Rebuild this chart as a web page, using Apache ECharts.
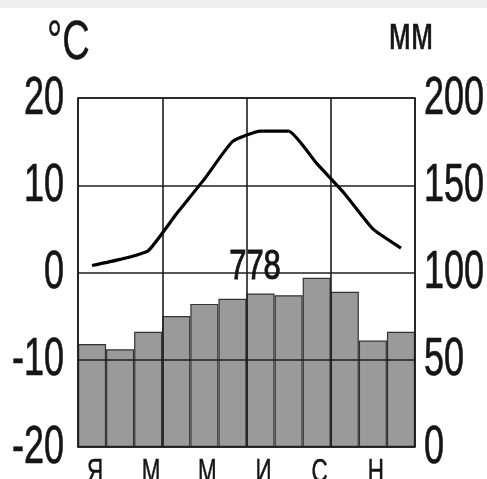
<!DOCTYPE html>
<html>
<head>
<meta charset="utf-8">
<script src="https://cdn.jsdelivr.net/npm/echarts@6/dist/echarts.min.js"></script>
<style>
html,body{margin:0;padding:0;background:#fff;}
#chart{width:487px;height:479px;}
</style>
</head>
<body>
<div id="chart"></div>
<script>
var months = ['Я','Ф','М','А','М','И','И','А','С','О','Н','Д'];
var precipitation = [59, 56, 66, 75, 82, 85, 88, 87, 97, 89, 61, 66];
var temperature = [0.8, 1.5, 2.5, 6.7, 10.7, 15, 16.2, 16.2, 12.5, 9, 5, 2.8];
var tempTicks = [-20, -10, 0, 10, 20];
var precipTicks = [0, 50, 100, 150, 200];
var annualTotal = '778';
var tempUnit = '°C';
var precipUnit = 'мм';

var FONT = '"Liberation Sans", Arial, sans-serif';
var SX = 0.68;
var chart = echarts.init(document.getElementById('chart'), null, {renderer: 'canvas'});
chart.setOption({
  animation: false,
  backgroundColor: '#ffffff',
  grid: {left: 78, right: 72, top: 98, bottom: 32, containLabel: false, outerBoundsMode: 'none',
         show: true, borderColor: '#1e1e1e', borderWidth: 1.6, backgroundColor: 'transparent', z: 10},
  xAxis: {
    type: 'category', data: months, boundaryGap: true, z: 10,
    axisLine: {show: false}, axisTick: {show: false},
    axisLabel: {show: false},
    splitLine: {show: true, interval: 2, lineStyle: {color: '#1e1e1e', width: 1.6}}
  },
  yAxis: [
    {type: 'value', min: -20, max: 20, interval: 10, z: 10,
     axisLine: {show: false}, axisTick: {show: false}, axisLabel: {show: false},
     splitLine: {show: true, lineStyle: {color: '#1e1e1e', width: 1.6}}},
    {type: 'value', min: 0, max: 200, interval: 50, position: 'right', z: 10,
     axisLine: {show: false}, axisTick: {show: false}, axisLabel: {show: false},
     splitLine: {show: false}}
  ],
  series: [
    {type: 'bar', yAxisIndex: 1, data: precipitation, barCategoryGap: '0%', z: 2,
     itemStyle: {color: '#9a9a9a', borderColor: '#333', borderWidth: 1.2}},
    {type: 'line', yAxisIndex: 0, data: temperature, symbol: 'none', smooth: 0.15, z: 20,
     lineStyle: {color: '#000', width: 3.2}}
  ]
});

function txt(text, x, y, size, align, sx, lw) {
  return {type: 'text', x: x, y: y, scaleX: sx, z: 30,
          style: {text: text, font: size + 'px ' + FONT, fill: '#151515', stroke: '#151515',
                  lineWidth: lw, align: align, verticalAlign: 'middle'}};
}
var g = [{type: 'rect', left: 0, top: 0, shape: {width: 487, height: 8}, style: {fill: '#eeeeee'}}];
tempTicks.forEach(function (v) {
  var y = chart.convertToPixel({yAxisIndex: 0}, v);
  g.push(txt(String(v), 64, y + 1, 53, 'right', SX, 0.7));
});
precipTicks.forEach(function (v) {
  var y = chart.convertToPixel({yAxisIndex: 1}, v);
  g.push(txt(String(v), 424, y + 1, 53, 'left', SX, 0.7));
});
months.forEach(function (m, i) {
  if (i % 2 !== 0) return;
  var x = chart.convertToPixel({xAxisIndex: 0}, i);
  g.push(txt(m, x + 3, 473, 33, 'center', SX, 0.5));
});
g.push(txt(tempUnit, 47, 44, 56, 'left', 0.68, 0.4));
g.push(txt(precipUnit, 411, 36, 46, 'center', 0.7, 0.6));
g.push(txt(annualTotal, 255, 267, 43, 'center', 0.72, 1.1));
chart.setOption({graphic: g});
</script>
</body>
</html>
